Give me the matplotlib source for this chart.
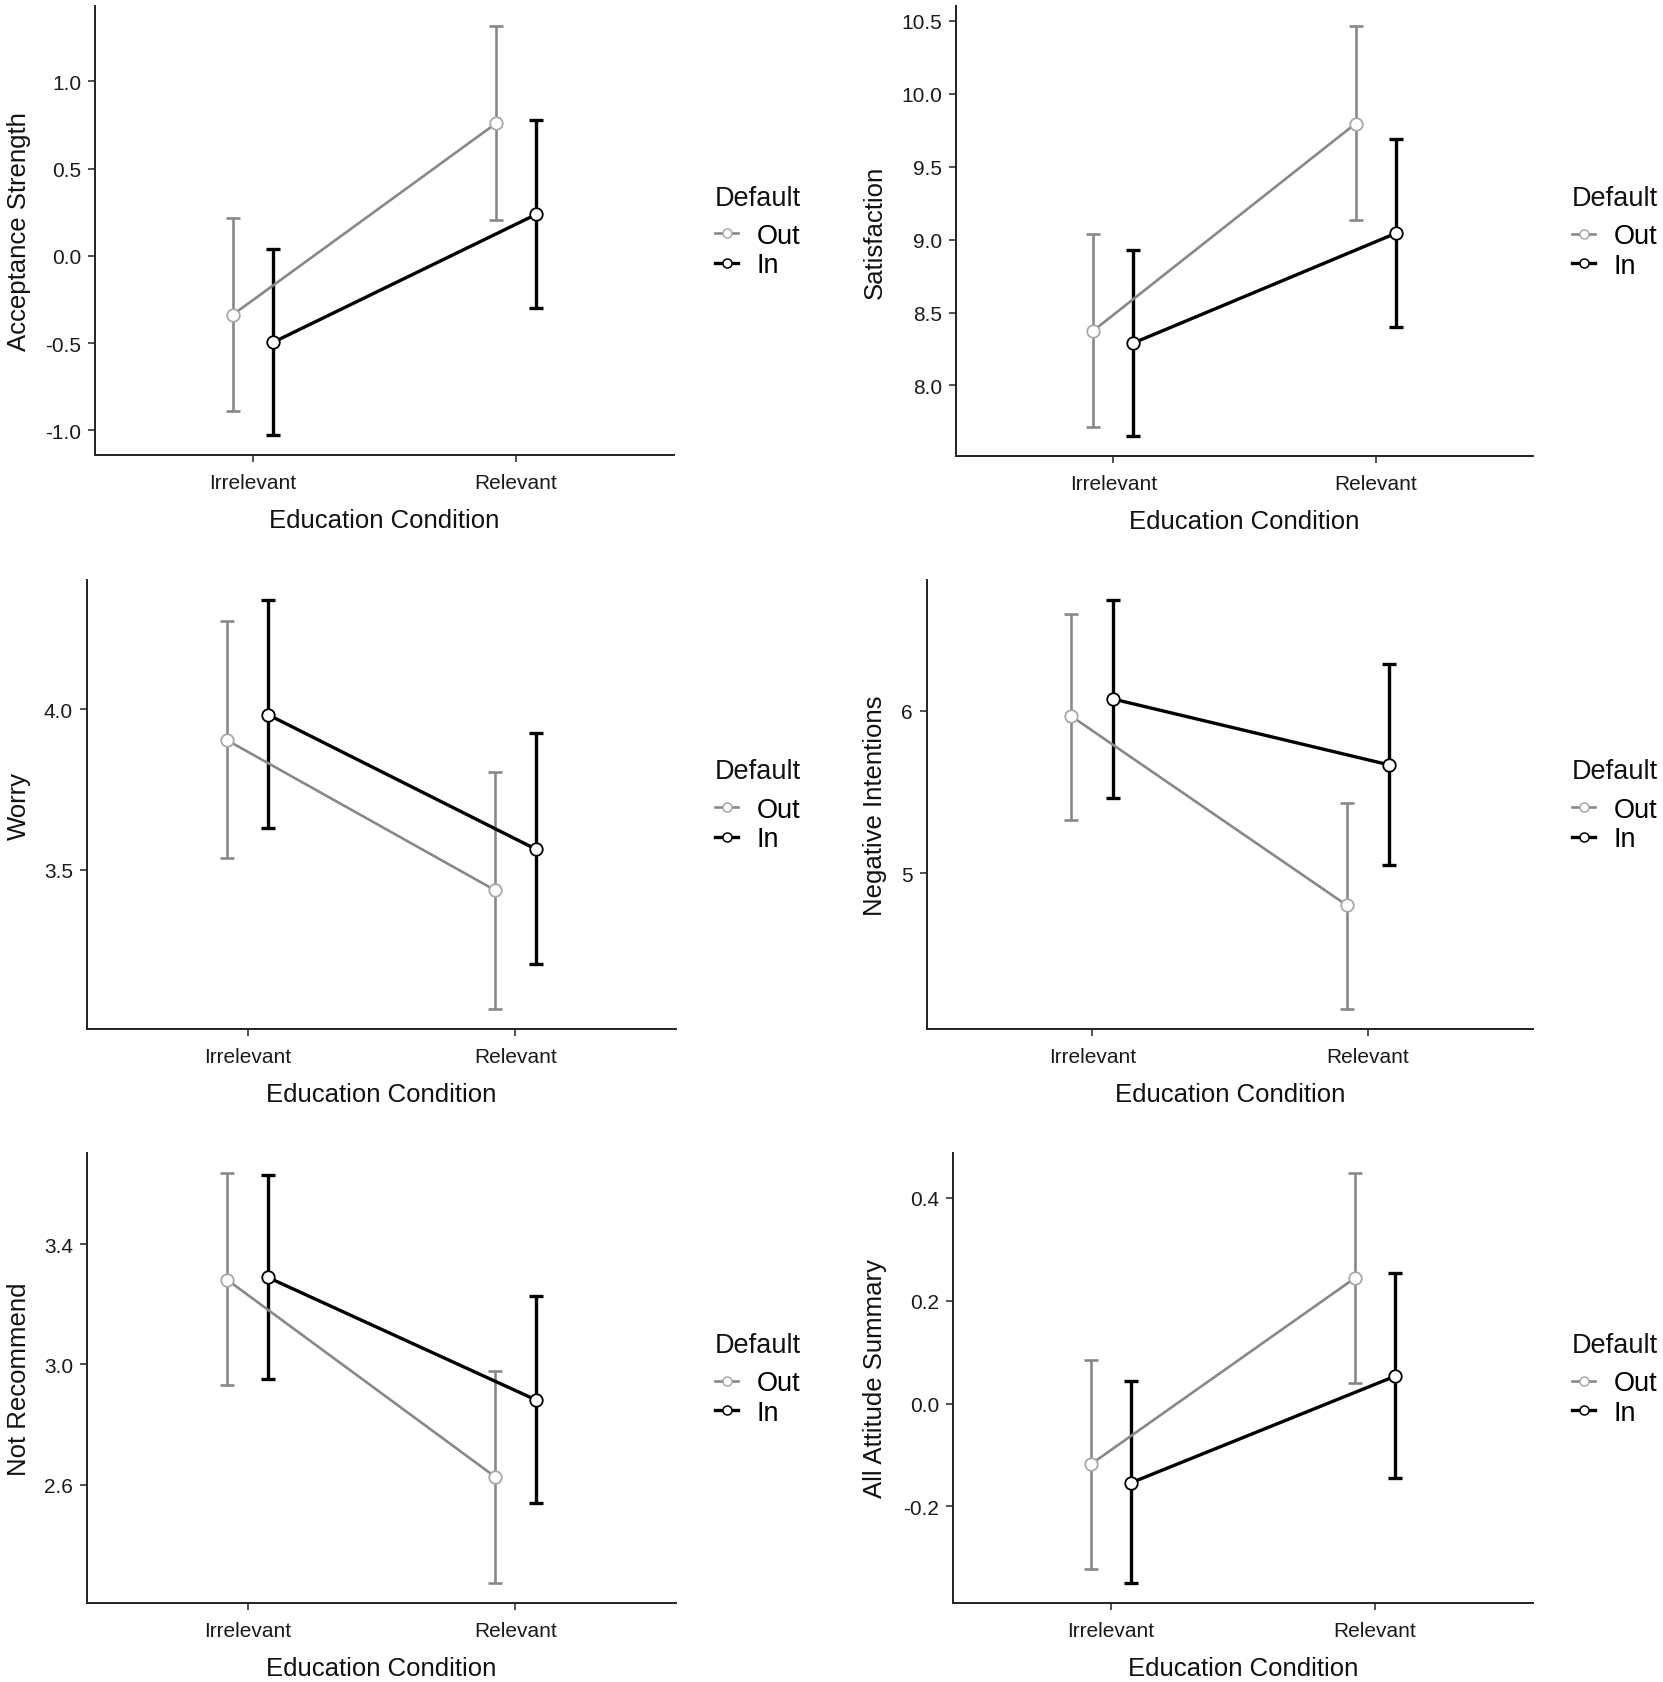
import matplotlib
matplotlib.use('Agg')
import matplotlib.pyplot as plt
from matplotlib.lines import Line2D
from matplotlib.ticker import FixedLocator, FormatStrFormatter
import numpy as np

plt.rcParams['font.family'] = ['Liberation Sans', 'DejaVu Sans']
plt.rcParams['axes.unicode_minus'] = False

conditions = ['Irrelevant', 'Relevant']
groups = ['Out', 'In']
x_label = 'Education Condition'
legend_title = 'Default'

# Panel 1: Acceptance Strength
acc_out_mean = [-0.337, 0.759]
acc_out_lo = [-0.888, 0.204]
acc_out_hi = [0.218, 1.314]
acc_in_mean = [-0.496, 0.237]
acc_in_lo = [-1.024, -0.298]
acc_in_hi = [0.037, 0.776]
acc_ticks = [-1.0, -0.5, 0.0, 0.5, 1.0]

# Panel 2: Satisfaction
sat_out_mean = [8.376, 9.795]
sat_out_lo = [7.718, 9.135]
sat_out_hi = [9.037, 10.46]
sat_in_mean = [8.291, 9.042]
sat_in_lo = [7.657, 8.401]
sat_in_hi = [8.927, 9.692]
sat_ticks = [8.0, 8.5, 9.0, 9.5, 10.0, 10.5]

# Panel 3: Worry
wor_out_mean = [3.903, 3.436]
wor_out_lo = [3.536, 3.067]
wor_out_hi = [4.274, 3.804]
wor_in_mean = [3.983, 3.564]
wor_in_lo = [3.629, 3.206]
wor_in_hi = [4.339, 3.926]
wor_ticks = [3.5, 4.0]

# Panel 4: Negative Intentions
neg_out_mean = [5.967, 4.802]
neg_out_lo = [5.33, 4.165]
neg_out_hi = [6.6, 5.433]
neg_in_mean = [6.073, 5.668]
neg_in_lo = [5.462, 5.051]
neg_in_hi = [6.681, 6.292]
neg_ticks = [5, 6]

# Panel 5: Not Recommend
rec_out_mean = [3.281, 2.626]
rec_out_lo = [2.931, 2.274]
rec_out_hi = [3.635, 2.977]
rec_in_mean = [3.289, 2.882]
rec_in_lo = [2.952, 2.539]
rec_in_hi = [3.629, 3.226]
rec_ticks = [2.6, 3.0, 3.4]

# Panel 6: All Attitude Summary
all_out_mean = [-0.1175, 0.244]
all_out_lo = [-0.3217, 0.0399]
all_out_hi = [0.0853, 0.4476]
all_in_mean = [-0.1538, 0.0531]
all_in_lo = [-0.348, -0.1448]
all_in_hi = [0.0434, 0.2538]
all_ticks = [-0.2, 0.0, 0.2, 0.4]

panels = [
    ('Acceptance Strength', acc_out_mean, acc_out_lo, acc_out_hi, acc_in_mean, acc_in_lo, acc_in_hi, acc_ticks, '%.1f'),
    ('Satisfaction', sat_out_mean, sat_out_lo, sat_out_hi, sat_in_mean, sat_in_lo, sat_in_hi, sat_ticks, '%.1f'),
    ('Worry', wor_out_mean, wor_out_lo, wor_out_hi, wor_in_mean, wor_in_lo, wor_in_hi, wor_ticks, '%.1f'),
    ('Negative Intentions', neg_out_mean, neg_out_lo, neg_out_hi, neg_in_mean, neg_in_lo, neg_in_hi, neg_ticks, '%d'),
    ('Not Recommend', rec_out_mean, rec_out_lo, rec_out_hi, rec_in_mean, rec_in_lo, rec_in_hi, rec_ticks, '%.1f'),
    ('All Attitude Summary', all_out_mean, all_out_lo, all_out_hi, all_in_mean, all_in_lo, all_in_hi, all_ticks, '%.1f'),
]

W, H = 1663, 1683
fig = plt.figure(figsize=(W / 100, H / 100), dpi=100)

# axes boxes in pixels: left, right, top, bottom
boxes = [
    (95, 674, 7, 456),
    (956, 1533, 7, 457),
    (87, 676, 581, 1030),
    (927, 1533, 581, 1030),
    (87, 676, 1154, 1604),
    (953, 1533, 1154, 1604),
]
ylabel_x_px = [19, 875, 19, 875, 19, 875]
legend_x_px = [715, 1572, 715, 1572, 715, 1572]

out_line = '#888888'
out_edge = '#a8a8a8'
in_line = '#000000'
dodge = 0.076
x = np.arange(len(conditions))

for i, (ylab, om, ol, oh, im, il, ih, ticks, fmt) in enumerate(panels):
    l, r, t, b = boxes[i]
    ax = fig.add_axes([l / W, 1 - b / H, (r - l) / W, (b - t) / H])
    om, ol, oh = np.array(om), np.array(ol), np.array(oh)
    im, il, ih = np.array(im), np.array(il), np.array(ih)

    ax.errorbar(x - dodge, om, yerr=[om - ol, oh - om], fmt='none', ecolor=out_line,
                elinewidth=1.9, capsize=4.7, capthick=1.9, zorder=2)
    ax.errorbar(x + dodge, im, yerr=[im - il, ih - im], fmt='none', ecolor=in_line,
                elinewidth=2.4, capsize=4.7, capthick=2.4, zorder=2)
    ax.plot(x - dodge, om, color=out_line, lw=1.9, zorder=3)
    ax.plot(x + dodge, im, color=in_line, lw=2.4, zorder=3)
    ax.plot(x - dodge, om, 'o', ms=9, mfc='white', mec=out_edge, mew=1.3, zorder=4)
    ax.plot(x + dodge, im, 'o', ms=9, mfc='white', mec=in_line, mew=1.3, zorder=4)

    ax.set_xlim(-0.6, 1.6)
    ax.margins(y=0.05)
    ax.set_xticks(x)
    ax.set_xticklabels(conditions)
    ax.yaxis.set_major_locator(FixedLocator(ticks))
    ax.yaxis.set_major_formatter(FormatStrFormatter(fmt))

    for s in ['top', 'right']:
        ax.spines[s].set_visible(False)
    for s in ['left', 'bottom']:
        ax.spines[s].set_color('#222222')
        ax.spines[s].set_linewidth(1.4)
    ax.tick_params(axis='both', length=5, width=1.1, color='#222222',
                   labelsize=15, labelcolor='#1a1a1a')
    ax.tick_params(axis='x', pad=8)
    ax.tick_params(axis='y', pad=5)

    ax.set_xlabel(x_label, fontsize=18.5, color='#111111')
    ax.xaxis.label.set_va('center')
    ax.xaxis.set_label_coords(0.5, -65 / (b - t))
    ax.set_ylabel(ylab, fontsize=18.5, color='#111111')
    ax.yaxis.label.set_va('center')
    ax.yaxis.set_label_coords((ylabel_x_px[i] - l) / (r - l), 0.5)

    handles = [
        Line2D([], [], color=out_line, lw=1.9, marker='o', ms=6.5, mfc='white', mec=out_edge, mew=1.1),
        Line2D([], [], color=in_line, lw=2.4, marker='o', ms=6.5, mfc='white', mec=in_line, mew=1.1),
    ]
    yc_px = (t + b) / 2
    fig.legend(handles, groups, loc='center left',
               bbox_to_anchor=(legend_x_px[i] / W, 1 - (yc_px + 20) / H),
               bbox_transform=fig.transFigure,
               frameon=False, borderpad=0, borderaxespad=0, fontsize=19.5,
               handlelength=0.85, handletextpad=0.7, labelspacing=0.12)
    fig.text(legend_x_px[i] / W, 1 - (yc_px - 33) / H, legend_title,
             fontsize=19.5, ha='left', va='center', color='#111111')

fig.savefig('out.png', dpi=100)
